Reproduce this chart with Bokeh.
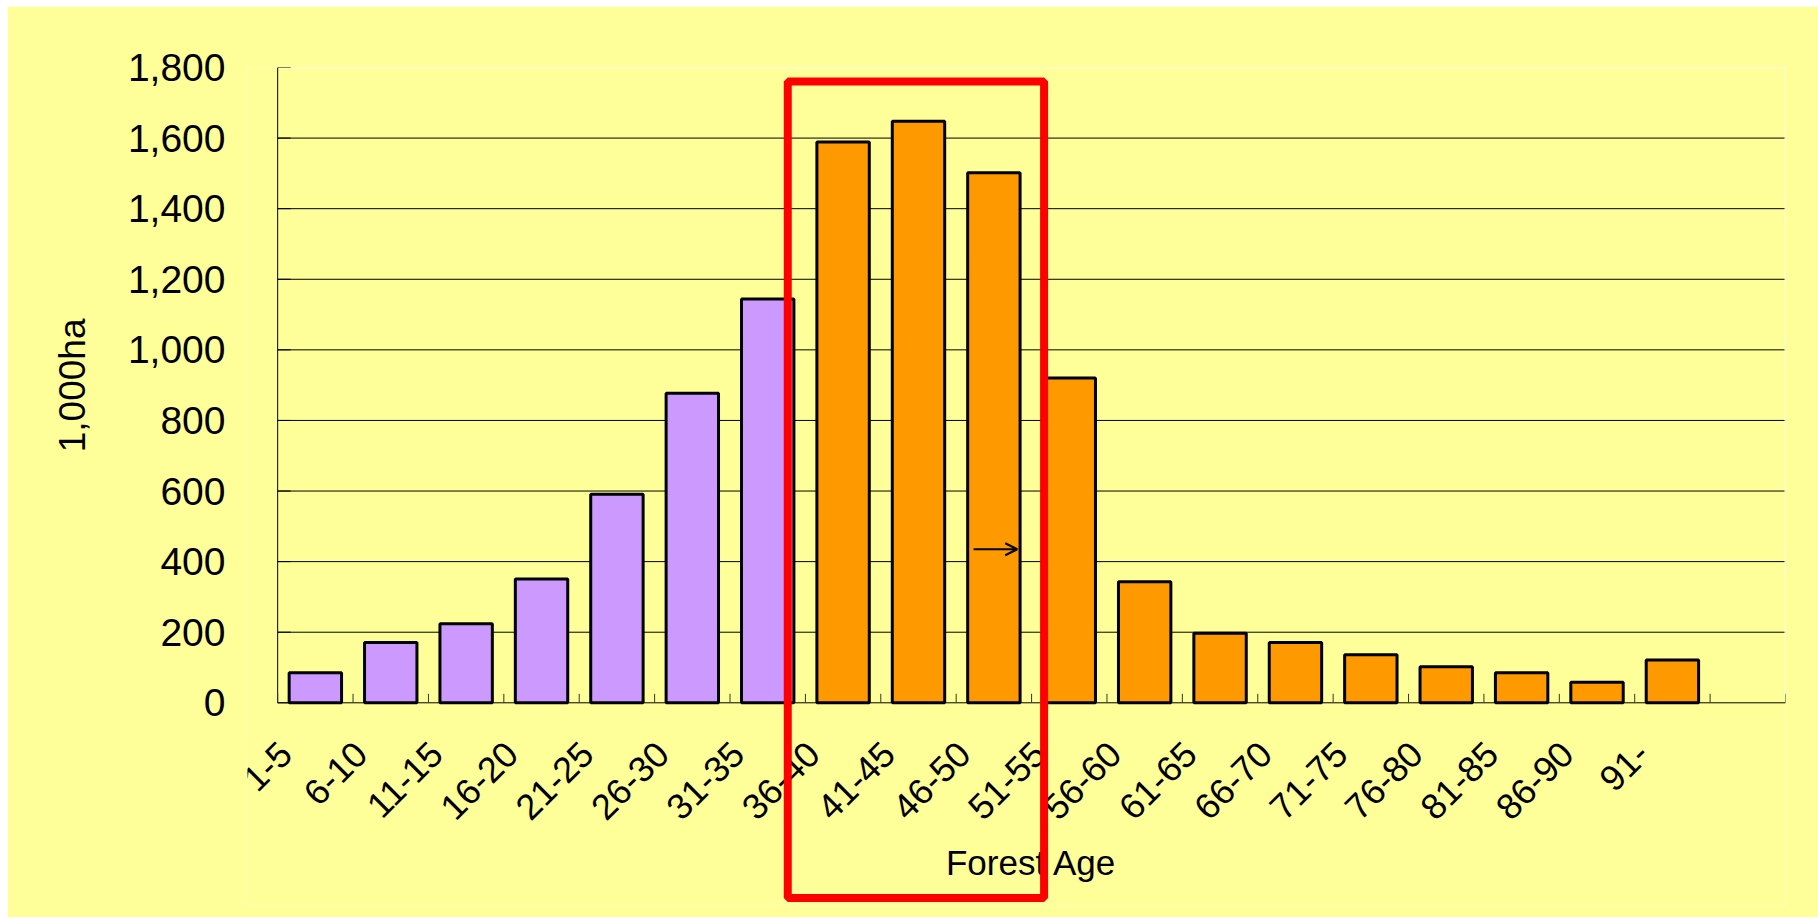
import math
from bokeh.plotting import figure
from bokeh.models import (Range1d, FixedTicker, NumeralTickFormatter, ColumnDataSource,
                          LabelSet, Label, BoxAnnotation, Arrow, OpenHead, Title)
from bokeh.core.properties import value
from bokeh.embed import file_html
from bokeh.resources import INLINE

# ---------------- data ----------------
categories = ["1-5", "6-10", "11-15", "16-20", "21-25", "26-30", "31-35", "36-40",
              "41-45", "46-50", "51-55", "56-60", "61-65", "66-70", "71-75", "76-80",
              "81-85", "86-90", "91-"]
area_1000ha = [85, 171, 224, 351, 591, 877, 1144, 1589, 1648, 1502, 920, 343,
               197, 171, 136, 102, 85, 58, 121]
young_classes = categories[:7]            # drawn in purple
y_ticks = [0, 200, 400, 600, 800, 1000, 1200, 1400, 1600, 1800]
highlight = ("36-40", "46-50")             # classes framed by the red box
arrow_class = "46-50"
arrow_level = 435
x_title = "Forest Age"
y_title = "1,000ha"

# ---------------- style / geometry ----------------
BG = "#FFFF99"
PURPLE = "#CC99FF"
ORANGE = "#FF9900"
FONT = "Liberation Sans"
PLOT_H_PX = 635.3          # pixel height of the 0..1800 value band
BELOW_PX = 202.7           # extra frame room under the value 0 line
LEFT_PAD = 0.4             # extra frame room left of the value axis (in slots)
px_per_unit = PLOT_H_PX / y_ticks[-1]
y_min = -BELOW_PX / px_per_unit

n_slots = len(categories) + 1
xs = [i + 0.5 for i in range(len(categories))]
colors = [PURPLE if c in young_classes else ORANGE for c in categories]

src = ColumnDataSource(dict(x=xs, top=area_1000ha, color=colors, label=categories,
                            y0=[0] * len(categories)))

p = figure(width=1811, height=911, output_backend="svg", toolbar_location=None,
           x_axis_type=None,
           x_range=Range1d(-LEFT_PAD, n_slots), y_range=Range1d(y_min, y_ticks[-1]),
           min_border_left=240, min_border_right=33, min_border_top=61,
           min_border_bottom=12)
p.margin = (6, 0, 1, 7)
p.background_fill_color = BG
p.border_fill_color = BG
p.outline_line_color = None
p.ygrid.visible = False

# horizontal grid lines
grid_y = y_ticks[1:-1]
p.segment(x0=[0] * len(grid_y), y0=grid_y, x1=[n_slots] * len(grid_y), y1=grid_y,
          line_color="black", line_width=1)
# light border of the plot area (top and right)
p.segment(x0=[0, n_slots], y0=[y_ticks[-1], 0], x1=[n_slots, n_slots],
          y1=[y_ticks[-1], y_ticks[-1]], line_color="#FFFFDD", line_width=2)
# axis lines
p.segment(x0=[0, 0], y0=[0, 0], x1=[n_slots, 0], y1=[0, y_ticks[-1]],
          line_color="black", line_width=1)
# short inside ticks on the value axis
p.segment(x0=[0] * len(y_ticks), y0=y_ticks, x1=[13 / 75.4] * len(y_ticks), y1=y_ticks,
          line_color="black", line_width=1)
# category boundary ticks (inside)
bounds = list(range(0, n_slots + 1))
p.segment(x0=bounds, y0=[0] * len(bounds), x1=bounds, y1=[9 / px_per_unit] * len(bounds),
          line_color="#333333", line_width=1)

p.vbar(x="x", top="top", width=0.695, source=src, fill_color="color",
       line_color="black", line_width=3)

# y axis
ya = p.yaxis[0]
ya.ticker = FixedTicker(ticks=y_ticks)
ya.formatter = NumeralTickFormatter(format="0,0")
ya.major_label_text_font = FONT
ya.major_label_text_font_size = "39px"
ya.major_label_text_color = "black"
ya.major_tick_in = 0
ya.major_tick_out = 0
ya.major_tick_line_color = None
ya.minor_tick_line_color = None
ya.major_label_standoff = 22
ya.axis_line_color = None

p.add_layout(Title(text=y_title, align="right", offset=251, standoff=64,
                   text_font=FONT, text_font_size="37px", text_font_style="normal",
                   text_color="black"), "left")

# x tick labels (rotated)
labels = LabelSet(x="x", y="y0", text="label", source=src, angle=math.pi / 4,
                  text_align="right", text_baseline="alphabetic",
                  x_offset=-21, y_offset=-54, text_font=value(FONT),
                  text_font_size="36px", text_color="black")
p.add_layout(labels)

# x title
p.add_layout(Label(x=n_slots / 2, y=0, y_offset=-160, text=x_title,
                   text_align="center", text_baseline="alphabetic",
                   text_font=FONT, text_font_size="35px", text_color="black"))

# red highlight box
i0 = categories.index(highlight[0])
i1 = categories.index(highlight[1])
box = BoxAnnotation(left=i0 - 0.234, right=i1 + 1.166, top=1760, bottom=-553,
                    fill_alpha=0, line_color="#FF0000", line_alpha=1.0, line_width=8,
                    level="overlay")
p.add_layout(box)

# arrow
ia = categories.index(arrow_class)
arr = Arrow(x_start=ia + 0.23, y_start=arrow_level, x_end=ia + 0.81, y_end=arrow_level,
            line_color="black", line_width=2,
            end=OpenHead(size=12, line_color="black", line_width=2))
p.add_layout(arr)

open("out.html", "w").write(file_html(p, INLINE))
